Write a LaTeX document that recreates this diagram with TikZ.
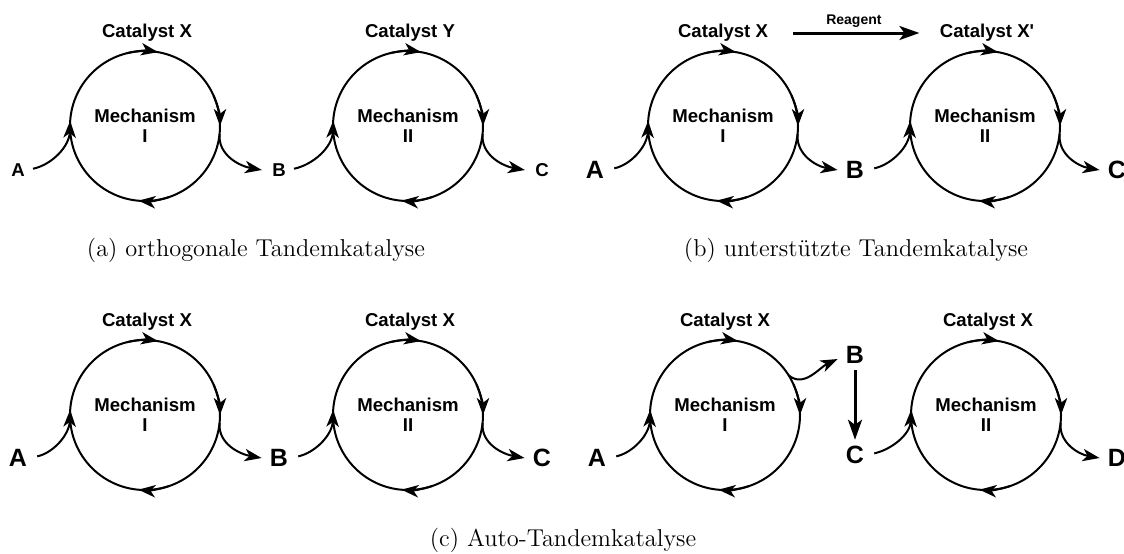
\documentclass[tikz,border=0pt]{standalone}
\usepackage{fontspec}
\newfontfamily\hv{Liberation Sans}
\usetikzlibrary{arrows.meta}
\begin{document}
\begin{tikzpicture}[x=0.5pt,y=0.5pt,
  cyc/.style={circle, draw, line width=1pt, minimum size=75pt, inner sep=0pt, outer sep=0pt,
    font=\hv\bfseries\fontsize{9.3}{10}\selectfont, align=center},
  lab/.style={font=\hv\bfseries\fontsize{9.3}{11}\selectfont, inner sep=1pt},
  biglab/.style={font=\hv\bfseries\fontsize{12.5}{14}\selectfont, inner sep=1pt},
  smalllab/.style={font=\hv\bfseries\fontsize{7}{8}\selectfont, inner sep=1pt},
  captxt/.style={font=\fontsize{12.2}{14}\selectfont, inner sep=0pt},
  arr/.style={line width=1pt, -{Stealth[length=8.5pt,width=6.2pt,inset=2.4pt]}},
  thickarr/.style={line width=1.5pt, -{Stealth[length=10pt,width=7pt,inset=2.5pt]}}
]
\useasboundingbox (0,0) rectangle (1124,-553);
\newcommand\cyctips[1]{%
  \draw[arr] ([shift={(104:37.5pt)}]#1.center) arc[start angle=104,end angle=80,radius=37.5pt];
  \draw[arr] ([shift={(24:37.5pt)}]#1.center) arc[start angle=24,end angle=0,radius=37.5pt];
  \draw[arr] ([shift={(289:37.5pt)}]#1.center) arc[start angle=289,end angle=265,radius=37.5pt];}

% ---------- (a)
\node[cyc] (c1) at (145,-126) {Mechanism\\I};
\node[cyc] (c2) at (408,-126) {Mechanism\\II};
\node[lab] (cx1) at (147,-33) {Catalyst X};
\node[lab] (cy1) at (410,-33) {Catalyst Y};
\node[lab] (a1) at (18,-170) {A};
\node[lab] (b1) at (279,-170) {B};
\node[lab] (d1) at (542,-170) {C};
\cyctips{c1}\cyctips{c2}
\draw[arr, shorten <=3pt] (a1.east) to[out=12,in=-92] (c1.176);
\draw[arr] (c1.-6) to[out=-95,in=170] ([xshift=-4pt]b1.west);
\draw[arr, shorten <=3pt] (b1.east) to[out=12,in=-92] (c2.176);
\draw[arr] (c2.-6) to[out=-95,in=170] ([xshift=-4pt]d1.west);
\node[captxt] (capa) at (256,-250) {(a) orthogonale Tandemkatalyse};

% ---------- (b)
\node[cyc] (c3) at (723,-126) {Mechanism\\I};
\node[cyc] (c4) at (985,-126) {Mechanism\\II};
\node[lab] (cx2) at (723,-33) {Catalyst X};
\node[lab] (cx3) at (987,-33) {Catalyst X'};
\node[biglab] (a2) at (595,-170) {A};
\node[biglab] (b2) at (855,-170) {B};
\node[biglab] (d2) at (1117,-170) {C};
\cyctips{c3}\cyctips{c4}
\draw[arr, shorten <=4pt] (a2.east) to[out=12,in=-92] (c3.176);
\draw[arr] (c3.-6) to[out=-95,in=170] ([xshift=-3pt]b2.west);
\draw[arr, shorten <=4pt] (b2.east) to[out=12,in=-92] (c4.176);
\draw[arr] (c4.-6) to[out=-95,in=170] ([xshift=-3pt]d2.west);
\draw[thickarr, shorten <=11.5pt, shorten >=9pt] (cx2.east) -- node[smalllab, above=1pt] (rg) {Reagent} (cx3.west);
\node[captxt] (capb) at (856,-250) {(b) unterstützte Tandemkatalyse};

% ---------- (c)
\node[cyc] (c5) at (145,-415) {Mechanism\\I};
\node[cyc] (c6) at (408,-415) {Mechanism\\II};
\node[cyc] (c7) at (725,-415) {Mechanism\\I};
\node[cyc] (c8) at (986,-415) {Mechanism\\II};
\node[lab] (cx5) at (147,-322) {Catalyst X};
\node[lab] (cx6) at (410,-322) {Catalyst X};
\node[lab] (cx7) at (725,-322) {Catalyst X};
\node[lab] (cx8) at (988,-322) {Catalyst X};
\node[biglab] (a5) at (18,-458) {A};
\node[biglab] (b5) at (279,-458) {B};
\node[biglab] (d5) at (542,-458) {C};
\node[biglab] (a7) at (597,-458) {A};
\node[biglab] (b7) at (855,-355) {B};
\node[biglab] (c7l) at (855,-455) {C};
\node[biglab] (d7) at (1117,-458) {D};
\cyctips{c5}\cyctips{c6}\cyctips{c7}\cyctips{c8}
\draw[arr, shorten <=4pt] (a5.east) to[out=12,in=-92] (c5.176);
\draw[arr] (c5.-6) to[out=-95,in=170] ([xshift=-3pt]b5.west);
\draw[arr, shorten <=4pt] (b5.east) to[out=12,in=-92] (c6.176);
\draw[arr] (c6.-6) to[out=-95,in=170] ([xshift=-3pt]d5.west);
\draw[arr, shorten <=4pt] (a7.east) to[out=12,in=-92] (c7.176);
\draw[arr] (c7.32) to[out=-40,in=205] ([xshift=-3pt,yshift=-2pt]b7.west);
\draw[thickarr, shorten <=2pt, shorten >=2pt] (b7.south) -- (c7l.north);
\draw[arr, shorten <=4pt] (c7l.east) to[out=12,in=-92] (c8.176);
\draw[arr] (c8.-6) to[out=-95,in=170] ([xshift=-3pt]d7.west);
\node[captxt] (capc) at (563,-540) {(c) Auto-Tandemkatalyse};
\end{tikzpicture}
\end{document}
